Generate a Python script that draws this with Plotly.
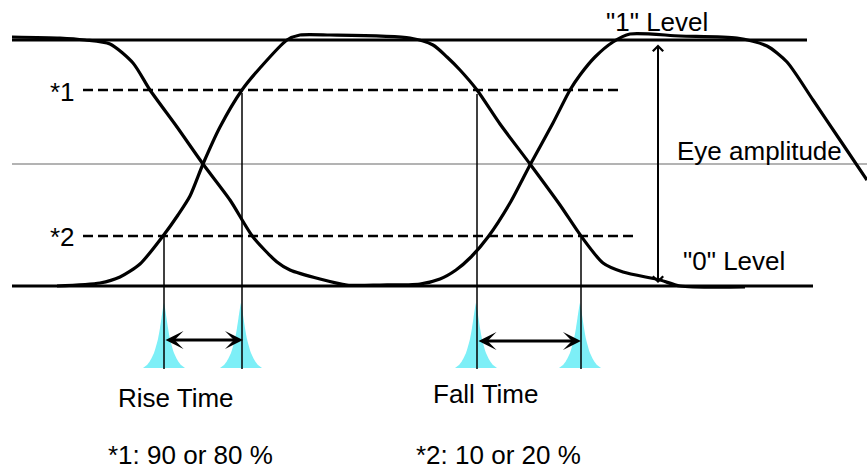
import plotly.graph_objects as go

W, H = 867, 472

# Eye traces (pixel coordinates, y downwards)
curve1_x = [12, 60, 85, 110, 133, 150, 177, 203, 230, 253, 277, 290, 320, 347, 380, 420, 440, 456, 471, 488, 510, 530, 553, 570, 580, 595, 613, 630, 680, 737, 767, 787, 813, 840, 867]
curve1_y = [37, 38, 40, 44, 63, 90, 127, 164, 200, 237, 262, 270, 279, 285, 285, 284, 279, 270, 257, 237, 203, 165, 123, 90, 75, 57, 42, 34, 36, 38, 46, 62, 100, 140, 180]

curve2_x = [57, 100, 120, 140, 163, 178, 190, 203, 220, 242, 260, 287, 300, 330, 410, 433, 447, 460, 477, 500, 530, 560, 581, 603, 623, 660, 680, 745]
curve2_y = [286, 283, 277, 264, 236, 215, 196, 164, 127, 90, 68, 40, 35, 35, 38, 45, 57, 70, 90, 124, 164, 205, 236, 263, 272, 280, 286, 287]

# Reference levels
level1_y, level0_y, mid_y = 40, 286, 164
level_x = [12, 807]
level0_x = [12, 813]
mid_x = [12, 867]
ref1_y, ref2_y = 90, 236
ref1_x = [83, 620]
ref2_x = [83, 635]

# Crossing markers (vertical lines)
vline_x = [164, 242, 477, 581]
vline_top = [236, 93, 94, 238]
vline_bottom = 369

# Jitter histograms
hist_center = [164, 241, 476, 580]
hist_base = 368
hist_dx = [-21, -17, -14, -10, -6, -4, -2.5, -1, 0, 1, 2.5, 4, 6, 10, 14, 17, 21]
hist_h = [0, 3, 7, 15, 29, 40, 50, 60, 65, 60, 50, 40, 29, 15, 7, 3, 0]

# Arrows
rise_arrow = dict(x0=164, x1=243, y=340)
fall_arrow = dict(x0=477, x1=581, y=341)
amp_arrow = dict(x=658, y0=43, y1=283)

labels = [
    ('"1" Level', 604, 22, "left"),
    ("Eye amplitude", 675, 151, "left"),
    ('"0" Level', 681, 261, "left"),
    ("*1", 48, 92, "left"),
    ("*2", 48, 237, "left"),
    ("Rise Time", 176, 398, "center"),
    ("Fall Time", 485, 394, "center"),
    ("*1: 90 or 80 %", 106, 455, "left"),
    ("*2: 10 or 20 %", 414, 455, "left"),
]

FONT = "Liberation Sans, Arial, sans-serif"
CYAN = "#7DEFF7"

fig = go.Figure()

for c in hist_center:
    fig.add_trace(go.Scatter(
        x=[c + d for d in hist_dx], y=[hist_base - h for h in hist_h],
        mode="lines", line=dict(color=CYAN, width=0, shape="spline", smoothing=0.6),
        fill="toself", fillcolor=CYAN, hoverinfo="skip", showlegend=False))

# gray mid line
fig.add_trace(go.Scatter(x=mid_x, y=[mid_y, mid_y], mode="lines",
                         line=dict(color="#9a9a9a", width=1.5), showlegend=False))
# dashed reference lines
for xs, yv in [(ref1_x, ref1_y), (ref2_x, ref2_y)]:
    fig.add_trace(go.Scatter(x=xs, y=[yv, yv], mode="lines",
                             line=dict(color="black", width=2.5, dash="10px,5px"), showlegend=False))
# vertical thin lines
for xv, yt in zip(vline_x, vline_top):
    fig.add_trace(go.Scatter(x=[xv, xv], y=[yt, vline_bottom], mode="lines",
                             line=dict(color="black", width=1.5), showlegend=False))
# level lines
fig.add_trace(go.Scatter(x=level_x, y=[level1_y, level1_y], mode="lines",
                         line=dict(color="black", width=3.2), showlegend=False))
fig.add_trace(go.Scatter(x=level0_x, y=[level0_y, level0_y], mode="lines",
                         line=dict(color="black", width=3.2), showlegend=False))
# eye curves
for xs, ys in [(curve1_x, curve1_y), (curve2_x, curve2_y)]:
    fig.add_trace(go.Scatter(x=xs, y=ys, mode="lines",
                             line=dict(color="black", width=3.2, shape="spline", smoothing=0.7),
                             showlegend=False))

annotations = []
for a in (rise_arrow, fall_arrow):
    annotations.append(dict(x=a["x1"], y=a["y"], ax=a["x0"], ay=a["y"], xref="x", yref="y",
                            axref="x", ayref="y", text="", showarrow=True,
                            arrowhead=3, startarrowhead=3, arrowside="end+start",
                            arrowwidth=3, arrowsize=1.0, startarrowsize=1.0,
                            arrowcolor="black", standoff=0, startstandoff=0))
annotations.append(dict(x=amp_arrow["x"], y=amp_arrow["y1"], ax=amp_arrow["x"], ay=amp_arrow["y0"],
                        xref="x", yref="y", axref="x", ayref="y", text="", showarrow=True,
                        arrowhead=4, startarrowhead=4, arrowside="end+start",
                        arrowwidth=2, arrowsize=1.0, startarrowsize=1.0,
                        arrowcolor="black", standoff=0, startstandoff=0))
for t, x, y, anc in labels:
    annotations.append(dict(x=x, y=y, xref="x", yref="y", text=t, showarrow=False,
                            xanchor=anc, yanchor="middle",
                            font=dict(family=FONT, size=26, color="black")))

fig.update_layout(
    width=W, height=H, margin=dict(l=0, r=0, t=0, b=0),
    paper_bgcolor="white", plot_bgcolor="white",
    xaxis=dict(range=[0, W], visible=False, fixedrange=True),
    yaxis=dict(range=[H, 0], visible=False, fixedrange=True),
    annotations=annotations, showlegend=False,
)

fig.write_html("out.html", config={"displayModeBar": False},
               post_script="document.body.style.margin='0';document.body.style.overflow='hidden';")
